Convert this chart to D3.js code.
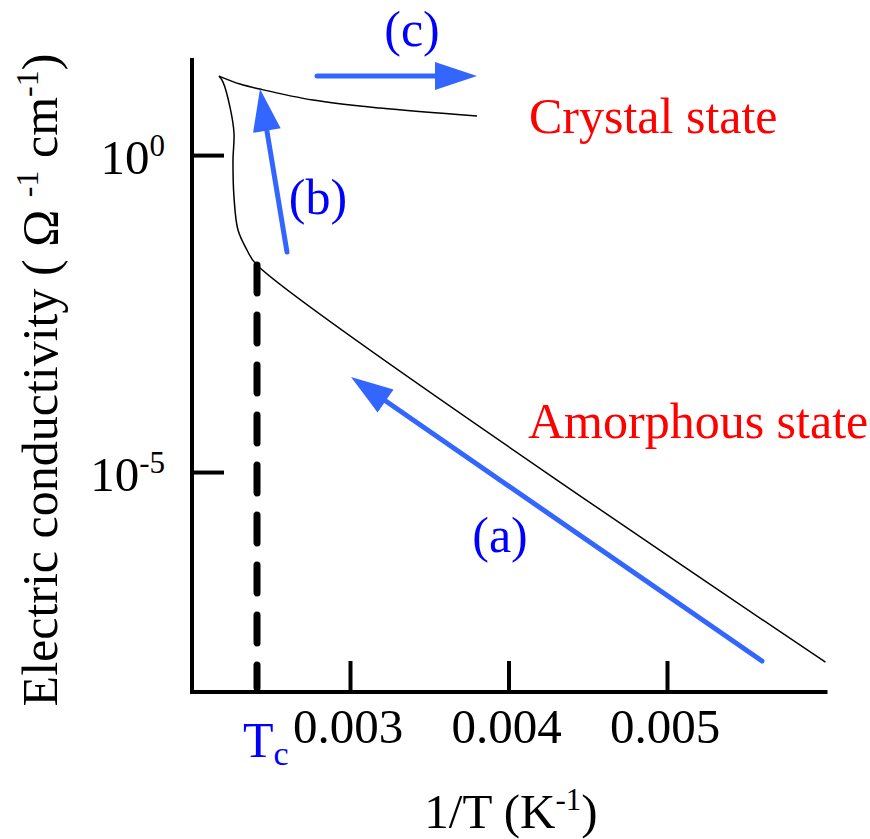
<!DOCTYPE html>
<html>
<head>
<meta charset="utf-8">
<script src="https://cdn.jsdelivr.net/npm/d3@7"></script>
<style>
  body { margin: 0; background: #fff; }
</style>
</head>
<body>
<div class="chart"></div>
<script>
// 1/T (K^-1) vs log10(sigma)
const crystalX = [0.0021735, 0.002306, 0.0024322, 0.0027666, 0.0031893, 0.0038013];
const crystalLog = [1.246, 1.12, 1.041, 0.868, 0.741, 0.615];

const amorphX = [0.0021735, 0.0021987, 0.0022429, 0.0022681, 0.0022618, 0.0022681, 0.0022934, 0.0023502, 0.0024133, 0.006];
const amorphLog = [1.246, 1.151, 0.757, 0.347, -0.079, -0.662, -1.183, -1.498, -1.735, -8.0];

const tcX = 0.0024133;
const tcLog = -1.735;

// arrows: [x, log10 sigma] at tail and tip
const arrowNames = ['a', 'b', 'c'];
const arrowFrom = [[0.0055994, -7.981], [0.0026025, -1.53], [0.0027918, 1.246]];
const arrowTo = [[0.0030063, -3.502], [0.0024322, 1.041], [0.0038013, 1.246]];

const xTicks = [0.003, 0.004, 0.005];
const xTickLabels = ['0.003', '0.004', '0.005'];
const yTicks = [1, 1e-5];
const yTickExp = ['0', '-5'];

const FULL_WIDTH = 870;
const FULL_HEIGHT = 839;
const BLUE_ARROW = '#3366ff';
const FONT = "'Liberation Serif', Tinos, 'DejaVu Serif', serif";

const svg = d3.select('.chart')
  .append('svg')
    .attr('width', FULL_WIDTH)
    .attr('height', FULL_HEIGHT)
    .attr('font-family', FONT);

const xScale = d3.scaleLinear()
  .domain([0.002, 0.006])
  .range([191.5, 825.5]);

const yScale = d3.scaleLog()
  .domain([Math.pow(10, -8.47), Math.pow(10, 1.5)])
  .range([692, 60]);

// axes (ticks point inward)
const xAxis = svg.append('g')
  .attr('transform', 'translate(0, 692)')
  .call(d3.axisBottom(xScale).tickValues(xTicks).tickSize(-31).tickFormat(''));
const yAxis = svg.append('g')
  .attr('transform', 'translate(192, 0)')
  .call(d3.axisLeft(yScale).tickValues(yTicks).tickSize(-32).tickFormat(''));

[xAxis, yAxis].forEach(ax => {
  ax.select('.domain').remove();
  ax.selectAll('line').attr('stroke', '#000').attr('stroke-width', 4);
});
svg.append('path')
  .attr('d', `M192,${yScale.range()[1]}V692H${xScale.range()[1]}`)
  .attr('fill', 'none')
  .attr('stroke', '#000')
  .attr('stroke-width', 4)
  .attr('stroke-linecap', 'square');

// tick labels
svg.selectAll('.xlabel')
  .data(xTicks)
  .enter()
  .append('text')
    .attr('x', d => xScale(d) - 2)
    .attr('y', 743)
    .attr('text-anchor', 'middle')
    .attr('font-family', FONT)
    .attr('font-size', 49)
    .text((d, i) => xTickLabels[i]);

yTicks.forEach((v, i) => {
  const t = svg.append('text')
    .attr('x', 165)
    .attr('y', yScale(v) + 19)
    .attr('text-anchor', 'end')
    .attr('font-family', FONT)
    .attr('font-size', 49);
  t.append('tspan').text('10');
  t.append('tspan').attr('font-size', 31).attr('dy', -18).text(yTickExp[i]);
});

// curves
const line = d3.line()
  .x(d => xScale(d[0]))
  .y(d => yScale(Math.pow(10, d[1])))
  .curve(d3.curveCatmullRom);

svg.append('path')
  .datum(crystalX.map((x, i) => [x, crystalLog[i]]))
  .attr('d', line)
  .attr('fill', 'none')
  .attr('stroke', '#000')
  .attr('stroke-width', 1.5);

svg.append('path')
  .datum(amorphX.map((x, i) => [x, amorphLog[i]]))
  .attr('d', line)
  .attr('fill', 'none')
  .attr('stroke', '#000')
  .attr('stroke-width', 1.5);

// Tc dashed line
svg.append('line')
  .attr('x1', xScale(tcX))
  .attr('x2', xScale(tcX))
  .attr('y1', yScale(Math.pow(10, tcLog)))
  .attr('y2', 688)
  .attr('stroke', '#000')
  .attr('stroke-width', 7)
  .attr('stroke-linecap', 'round')
  .attr('stroke-dasharray', '28,22');

// arrows
const HEAD_LEN = 42;
const HEAD_HALF = 14;
arrowNames.forEach((n, i) => {
  const x0 = xScale(arrowFrom[i][0]);
  const y0 = yScale(Math.pow(10, arrowFrom[i][1]));
  const x1 = xScale(arrowTo[i][0]);
  const y1 = yScale(Math.pow(10, arrowTo[i][1]));
  const len = Math.hypot(x1 - x0, y1 - y0);
  const ux = (x1 - x0) / len;
  const uy = (y1 - y0) / len;
  const bx = x1 - ux * HEAD_LEN;
  const by = y1 - uy * HEAD_LEN;
  svg.append('line')
    .attr('x1', x0).attr('y1', y0)
    .attr('x2', bx + ux * 2).attr('y2', by + uy * 2)
    .attr('stroke', BLUE_ARROW)
    .attr('stroke-width', 5)
    .attr('stroke-linecap', 'round');
  svg.append('path')
    .attr('d', `M${x1},${y1}L${bx - uy * HEAD_HALF},${by + ux * HEAD_HALF}L${bx + uy * HEAD_HALF},${by - ux * HEAD_HALF}Z`)
    .attr('fill', BLUE_ARROW);
});

// annotation text
const addText = (x, y, str, color, anchor = 'start') =>
  svg.append('text')
    .attr('x', x)
    .attr('y', y)
    .attr('text-anchor', anchor)
    .attr('font-family', FONT)
    .attr('font-size', 50)
    .attr('fill', color)
    .text(str);

addText(412, 46, '(c)', '#0000ff', 'middle');
addText(318, 214, '(b)', '#0000ff', 'middle');
addText(500, 552, '(a)', '#0000ff', 'middle');
addText(529, 133, 'Crystal state', '#ff0000');
addText(528, 438, 'Amorphous state', '#ff0000');

const tc = addText(243, 757, 'T', '#0000ff');
tc.append('tspan').attr('font-size', 34).attr('dy', 8).text('c');

// axis titles
const xt = svg.append('text')
  .attr('x', 511)
  .attr('y', 828)
  .attr('text-anchor', 'middle')
  .attr('font-family', FONT)
  .attr('font-size', 49);
xt.append('tspan').text('1/T (K');
xt.append('tspan').attr('font-size', 31).attr('dy', -18).text('-1');
xt.append('tspan').attr('dy', 18).text(')');

const yt = svg.append('text')
  .attr('transform', 'translate(57, 380) rotate(-90)')
  .attr('text-anchor', 'middle')
  .attr('font-family', FONT)
  .attr('font-size', 50);
yt.append('tspan').text('Electric conductivity ( \u03A9 ');
yt.append('tspan').attr('font-size', 32).attr('dy', -19).text('-1');
yt.append('tspan').attr('dy', 19).text(' cm');
yt.append('tspan').attr('font-size', 32).attr('dy', -19).text('-1');
yt.append('tspan').attr('dy', 19).text(')');
</script>
</body>
</html>
